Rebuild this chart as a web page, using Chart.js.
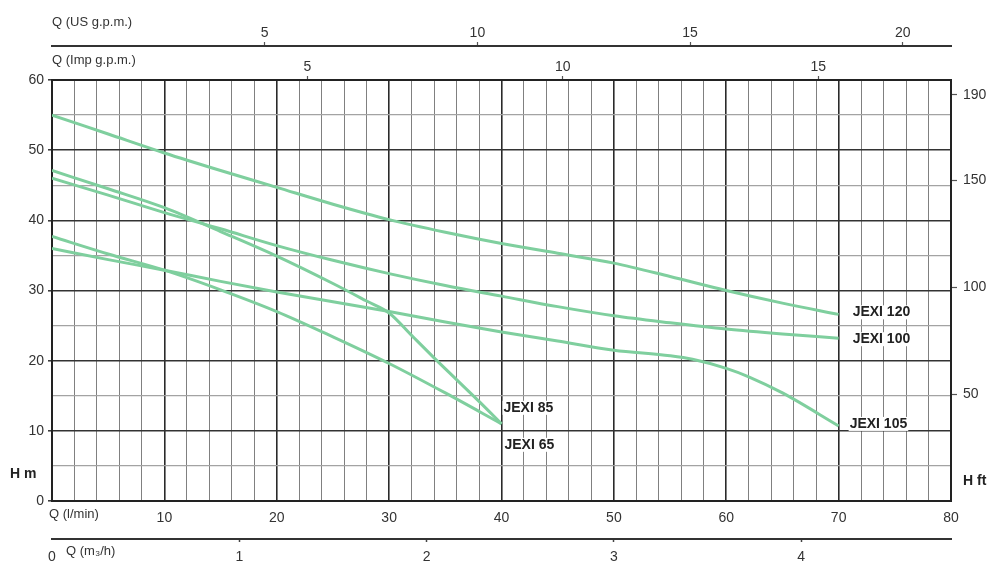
<!DOCTYPE html>
<html><head><meta charset="utf-8">
<script src="https://cdn.jsdelivr.net/npm/chart.js@4.4.1/dist/chart.umd.min.js"></script>
<style>html,body{margin:0;padding:0;background:#fff}#wrap{width:1000px;height:580px}</style>
</head><body><div id="wrap"><canvas id="c" width="1000" height="580"></canvas></div>
<script>
// ---- data (flow in l/min, head in m) ----
const jexi120Flow = [0,5,10,15,20,25,30,35,40,45,50,55,60,65,70];
const jexi120Head = [55,52.3,49.6,47.1,44.7,42.3,40.1,38.3,36.7,35.3,33.9,32.0,30.0,28.2,26.6];
const jexi100Flow = [0,5,10,15,20,25,30,35,40,45,50,55,60,65,70];
const jexi100Head = [46.0,43.6,41.1,38.8,36.4,34.3,32.4,30.7,29.2,27.7,26.4,25.4,24.5,23.8,23.2];
const jexi105Flow = [0,5,10,15,20,25,30,35,40,45,50,55,57,60,62,65,70];
const jexi105Head = [36.0,34.4,32.9,31.3,29.8,28.4,27.0,25.5,24.1,22.8,21.5,20.7,20.2,18.9,17.7,15.4,10.7];
const jexi85Flow = [0,5,10,15,20,25,28,30,32,34,36,38,40];
const jexi85Head = [47.1,44.5,41.8,38.4,34.9,31.0,28.5,26.8,23.6,20.4,17.3,14.2,11.0];
const jexi65Flow = [0,5,10,15,20,25,30,35,40];
const jexi65Head = [37.7,35.2,32.9,30.1,27.0,23.4,19.6,15.4,11.0];
const curveNames = ['JEXI 120','JEXI 100','JEXI 105','JEXI 85','JEXI 65'];
const ftTicks = [50,100,150,190];
const usGpmTicks = [5,10,15,20];
const impGpmTicks = [5,10,15];
const m3hTicks = [0,1,2,3,4];
const flowMax = 80;     // l/min
const headMax = 60;     // m
const M_TO_FT = 3.28084;
const LMIN_PER_USGPM = 3.78541;
const LMIN_PER_IMPGPM = 4.54609;
const LMIN_TO_M3H = 0.06;

const curves = [
  [jexi120Flow, jexi120Head],
  [jexi100Flow, jexi100Head],
  [jexi105Flow, jexi105Head],
  [jexi85Flow, jexi85Head],
  [jexi65Flow, jexi65Head]
];
const green = '#7fcf9e';
const FONT = '"Liberation Sans", Arial, Helvetica, sans-serif';
Chart.defaults.font.family = FONT;
Chart.defaults.font.size = 14;
Chart.defaults.color = '#333';

const labelOffsets = [[14,-2],[14,1],[11,-2],[2,-16],[3,21]];

const textPlugin = {
  id: 'texts',
  afterDraw(chart) {
    const {ctx, chartArea: a, scales} = chart;
    ctx.save();
    ctx.fillStyle = '#333';
    ctx.textBaseline = 'middle';
    ctx.textAlign = 'left';
    ctx.font = '13px ' + FONT;
    ctx.fillText('Q (US g.p.m.)', a.left, scales.xus.top + 22);
    ctx.fillText('Q (Imp g.p.m.)', a.left, scales.ximp.top + 14);
    ctx.fillText('Q (l/min)', a.left - 3, scales.x.top + 13);
    ctx.fillText('Q (m\u2083/h)', a.left + 14, scales.xm3.top + 12);
    ctx.fillStyle = '#222';
    ctx.font = 'bold 14px ' + FONT;
    ctx.fillText('H m', 10, 474);
    ctx.fillText('H ft', a.right + 12, 481);
    // curve labels at curve ends
    curves.forEach((c, i) => {
      const n = c[0].length - 1;
      const px = scales.x.getPixelForValue(c[0][n]);
      const py = scales.y.getPixelForValue(c[1][n]);
      const tx = px + labelOffsets[i][0], ty = py + labelOffsets[i][1];
      const w = ctx.measureText(curveNames[i]).width;
      ctx.fillStyle = '#fff';
      ctx.fillRect(tx - 1, ty - 7, w + 2, 14);
      ctx.fillStyle = '#222';
      ctx.fillText(curveNames[i], tx, ty);
    });
    ctx.restore();
  }
};

const clear = 'rgba(0,0,0,0)';
const setTicks = arr => s => { s.ticks = arr.map(v => ({value: v})); };
new Chart(document.getElementById('c'), {
  type: 'line',
  data: {
    datasets: curves.map((c, i) => ({
      label: curveNames[i],
      data: c[0].map((q, j) => ({x: q, y: c[1][j]})),
      borderColor: green,
      borderWidth: 3,
      pointRadius: 0,
      fill: false,
      tension: 0.4,
      cubicInterpolationMode: 'monotone',
      xAxisID: 'x',
      yAxisID: 'y'
    }))
  },
  options: {
    responsive: false,
    animation: false,
    devicePixelRatio: 1,
    layout: {padding: 0},
    plugins: {legend: {display: false}, tooltip: {enabled: false}},
    scales: {
      x: {
        type: 'linear', position: 'bottom', weight: 0, min: 0, max: flowMax,
        ticks: {stepSize: 2, autoSkip: false, maxRotation: 0, padding: 9,
          callback: v => (v % 10 === 0 && v !== 0) ? v : ''},
        grid: {drawTicks: false,
          color: c => c.tick.value % 10 === 0 ? '#2a2a2a' : '#808080',
          lineWidth: c => c.tick.value % 10 === 0 ? 1.6 : 1},
        border: {color: '#222', width: 2},
        afterFit: s => { s.height = 38; }
      },
      xm3: {
        type: 'linear', position: 'bottom', weight: 1, min: 0, max: flowMax * LMIN_TO_M3H,
        afterBuildTicks: setTicks(m3hTicks),
        ticks: {autoSkip: false, maxRotation: 0, padding: 7},
        grid: {drawOnChartArea: false, tickLength: 3, tickWidth: 1.5,
          tickColor: c => c.tick.value !== 0 ? '#444' : clear},
        border: {color: '#333', width: 2},
        afterFit: s => { s.height = 41; }
      },
      ximp: {
        type: 'linear', position: 'top', weight: 0, min: 0, max: flowMax / LMIN_PER_IMPGPM,
        afterBuildTicks: setTicks(impGpmTicks),
        ticks: {autoSkip: false, maxRotation: 0, padding: 0},
        grid: {drawOnChartArea: false, tickLength: 4, tickWidth: 1.2, tickColor: '#555'},
        border: {color: '#222', width: 2},
        afterFit: s => { s.height = 34; }
      },
      xus: {
        type: 'linear', position: 'top', weight: 1, min: 0, max: flowMax / LMIN_PER_USGPM,
        afterBuildTicks: setTicks(usGpmTicks),
        ticks: {autoSkip: false, maxRotation: 0, padding: 0},
        grid: {drawOnChartArea: false, tickLength: 4, tickWidth: 1.2, tickColor: '#555'},
        border: {color: '#333', width: 2},
        afterFit: s => { s.height = 46; }
      },
      y: {
        type: 'linear', position: 'left', min: 0, max: headMax,
        ticks: {stepSize: 5, autoSkip: false, padding: 4,
          callback: v => v % 10 === 0 ? v : ''},
        grid: {tickLength: 4, tickWidth: 1.5,
          tickColor: c => c.tick.value % 10 === 0 ? '#333' : clear,
          color: c => c.tick.value % 10 === 0 ? '#333' : '#a3a3a3',
          lineWidth: c => c.tick.value % 10 === 0 ? 1.6 : 1.3},
        border: {color: '#222', width: 2},
        afterFit: s => { s.width = 52; }
      },
      yft: {
        type: 'linear', position: 'right', min: 0, max: headMax * M_TO_FT,
        afterBuildTicks: setTicks(ftTicks),
        ticks: {autoSkip: false, padding: 6},
        grid: {drawOnChartArea: false, tickLength: 6, tickColor: '#555', tickWidth: 1.2},
        border: {color: '#222', width: 2},
        afterFit: s => { s.width = 49; }
      }
    }
  },
  plugins: [textPlugin]
});
</script>
</body></html>
